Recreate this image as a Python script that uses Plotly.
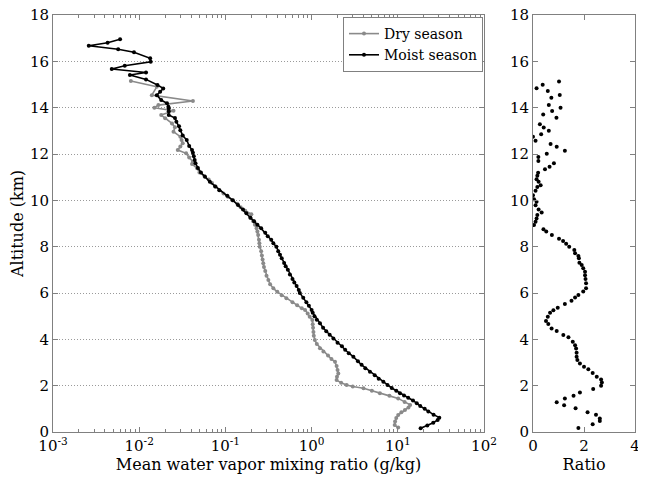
import plotly.graph_objects as go

# ---------------- data ----------------
moist_alt = [0.16, 0.28, 0.40, 0.52, 0.62, 0.75, 0.88, 1.00, 1.12, 1.24, 1.36, 1.48, 1.58, 1.67,
             1.78, 1.90, 2.03, 2.17, 2.30, 2.45, 2.60, 2.75, 2.90, 3.05, 3.25, 3.40, 3.55, 3.70,
             3.85, 4.04, 4.20, 4.35, 4.50, 4.69, 4.85, 5.00, 5.15, 5.27, 5.45, 5.60, 5.80, 6.00,
             6.13, 6.30, 6.45, 6.60, 6.80, 7.00, 7.15, 7.30, 7.50, 7.65, 7.80, 8.00, 8.15, 8.30,
             8.45, 8.60, 8.79, 8.95, 9.10, 9.25, 9.44, 9.60, 9.80, 10.00, 10.20, 10.44, 10.60,
             10.80, 11.02, 11.20, 11.40, 11.60, 11.74, 11.90, 12.05, 12.17, 12.35, 12.60, 12.80,
             13.03, 13.20, 13.39, 13.55, 13.68, 13.85, 13.97, 14.04, 14.19, 14.33, 14.54, 14.69,
             14.83, 14.98, 15.22, 15.41, 15.52, 15.67, 15.81, 15.98, 16.13, 16.39, 16.52, 16.67,
             16.80, 16.95]
moist_val = [18.4, 22.0, 25.8, 29.0, 30.3, 26.0, 22.6, 20.5, 18.2, 16.6, 15.0, 13.2, 11.8, 10.6,
             9.6, 8.5, 7.6, 6.8, 6.0, 5.4, 4.75, 4.2, 3.8, 3.45, 3.05, 2.7, 2.45, 2.25,
             2.0, 1.79, 1.62, 1.48, 1.36, 1.25, 1.15, 1.08, 1.03, 1.0, 0.93, 0.87, 0.80, 0.73,
             0.71, 0.67, 0.63, 0.60, 0.56, 0.53, 0.50, 0.48, 0.45, 0.43, 0.41, 0.39, 0.36, 0.34,
             0.31, 0.29, 0.26, 0.235, 0.215, 0.195, 0.175, 0.16, 0.14, 0.122, 0.105, 0.085, 0.076,
             0.066, 0.058, 0.052, 0.048, 0.045, 0.044, 0.043, 0.042, 0.041, 0.038, 0.0356, 0.032,
             0.030, 0.029, 0.027, 0.026, 0.022, 0.022, 0.022, 0.0218, 0.021, 0.018, 0.016, 0.0175,
             0.019, 0.0163, 0.012, 0.0078, 0.012, 0.0048, 0.0068, 0.0136, 0.0134, 0.0087, 0.0057,
             0.0026, 0.0043, 0.006]

dry_alt = [0.19, 0.30, 0.45, 0.60, 0.73, 0.85, 0.95, 1.06, 1.17, 1.30, 1.45, 1.56, 1.67, 1.78,
           1.89, 1.96, 2.03, 2.13, 2.24, 2.38, 2.53, 2.68, 2.85, 3.03, 3.15, 3.30, 3.47, 3.62,
           3.80, 3.97, 4.15, 4.32, 4.50, 4.65, 4.83, 4.98, 5.12, 5.27, 5.34, 5.47, 5.60, 5.77,
           5.90, 6.05, 6.20, 6.38, 6.56, 6.75, 6.95, 7.12, 7.28, 7.45, 7.62, 7.80, 8.00, 8.15,
           8.30, 8.50, 8.65, 8.79, 8.95, 9.10, 9.25, 9.40, 9.55, 9.70, 9.85, 10.00, 10.15, 10.30,
           10.45, 10.60, 10.75, 10.90, 11.05, 11.20, 11.38, 11.57, 11.67, 11.85, 12.03, 12.17,
           12.32, 12.46, 12.60, 12.75, 12.96, 13.15, 13.32, 13.54, 13.68, 13.87, 14.00, 14.11,
           14.29, 14.54, 14.90, 15.15]
dry_val = [10.1, 9.2, 9.3, 9.6, 10.1, 11.0, 12.1, 13.3, 13.9, 12.0, 10.1, 8.0, 6.2, 5.0,
           4.0, 3.0, 2.55, 2.2, 1.95, 1.97, 2.04, 2.0, 1.95, 1.87, 1.7, 1.55, 1.37, 1.25,
           1.15, 1.09, 1.06, 1.05, 1.04, 1.03, 1.02, 0.95, 0.90, 0.84, 0.77, 0.68, 0.60, 0.51,
           0.45, 0.40, 0.36, 0.33, 0.315, 0.30, 0.29, 0.28, 0.275, 0.27, 0.265, 0.26, 0.25, 0.248,
           0.245, 0.24, 0.235, 0.23, 0.22, 0.21, 0.195, 0.20, 0.17, 0.15, 0.137, 0.12, 0.107, 0.095,
           0.085, 0.077, 0.070, 0.064, 0.057, 0.050, 0.047, 0.041, 0.042, 0.038, 0.035, 0.028,
           0.030, 0.032, 0.031, 0.030, 0.025, 0.026, 0.024, 0.020, 0.018, 0.025, 0.015, 0.0167,
           0.042, 0.014, 0.016, 0.008]

ratio_alt = [0.17, 0.33, 0.47, 0.58, 0.74, 0.85, 1.02, 1.15, 1.28, 1.45, 1.57, 1.71, 1.86, 2.00,
             2.14, 2.27, 2.39, 2.55, 2.71, 2.82, 2.96, 3.11, 3.25, 3.42, 3.60, 3.75, 3.90, 4.09,
             4.19, 4.36, 4.47, 4.66, 4.79, 4.98, 5.15, 5.26, 5.36, 5.52, 5.67, 5.81, 5.91, 6.06,
             6.20, 6.42, 6.60, 6.77, 6.92, 7.07, 7.21, 7.31, 7.50, 7.60, 7.72, 7.86, 8.00, 8.13,
             8.25, 8.34, 8.50, 8.66, 8.75, 8.93, 9.08, 9.22, 9.37, 9.48, 9.60, 9.79, 9.94, 10.05,
             10.22, 10.41, 10.58, 10.65, 10.80, 10.91, 11.06, 11.19, 11.34, 11.45, 11.60, 11.70,
             11.87, 12.01, 12.14, 12.31, 12.43, 12.57, 12.74, 12.85, 13.00, 13.14, 13.28, 13.57,
             13.71, 13.86, 14.00, 14.12, 14.43, 14.55, 14.72, 14.84, 14.99, 15.13]
ratio_val = [1.78, 2.34, 2.62, 2.62, 2.47, 2.14, 1.67, 1.22, 0.93, 1.25, 1.59, 1.84, 2.36, 2.67,
             2.70, 2.67, 2.50, 2.34, 2.17, 2.00, 1.84, 1.74, 1.71, 1.71, 1.69, 1.65, 1.56, 1.39,
             1.19, 0.93, 0.73, 0.60, 0.51, 0.58, 0.67, 0.80, 0.97, 1.25, 1.51, 1.65, 1.78, 1.97,
             2.08, 2.08, 2.06, 2.04, 2.04, 1.97, 1.91, 1.82, 1.80, 1.78, 1.65, 1.62, 1.42, 1.30,
             1.18, 1.02, 0.74, 0.52, 0.41, 0.04, 0.10, 0.14, 0.17, 0.34, 0.22, 0.10, 0.14, 0.04,
             0.0, 0.10, 0.17, 0.30, 0.22, 0.14, 0.17, 0.20, 0.47, 0.65, 0.82, 0.21,
             0.21, 0.54, 1.25, 0.93, 0.69, 0.10, 0.0, 0.32, 0.62, 0.42, 0.27, 0.92,
             0.40, 0.75, 1.08, 0.62, 0.72, 1.05, 0.58, 0.14, 0.38, 1.02]

x_tickvals = [1e-3, 1e-2, 1e-1, 1e0, 1e1, 1e2]
x_ticktext = ["10<sup>-3</sup>", "10<sup>-2</sup>", "10<sup>-1</sup>",
              "10<sup>0</sup>", "10<sup>1</sup>", "10<sup>2</sup>"]
y_tickvals = [0, 2, 4, 6, 8, 10, 12, 14, 16, 18]
ratio_tickvals = [0, 2, 4]

minor_vals = [m * 10 ** e for e in range(-3, 2) for m in range(2, 10)]

# ---------------- figure ----------------
FONT = "DejaVu Serif"
AX = "#808080"
DRY = "#8a8a8a"

# page body has an 8px margin: size the figure to fit the window
OFF = 8
W, H = 646 - OFF, 477 - OFF


def px_x(px):
    return (px - OFF) / W


def px_y(py):
    return (H - (py - OFF)) / H


fig = go.Figure()
fig.add_trace(go.Scatter(x=dry_val, y=dry_alt, mode="lines+markers", name="Dry season",
                         line=dict(color=DRY, width=1.6), marker=dict(color=DRY, size=4),
                         xaxis="x", yaxis="y"))
fig.add_trace(go.Scatter(x=moist_val, y=moist_alt, mode="lines+markers", name="Moist season",
                         line=dict(color="black", width=1.6), marker=dict(color="black", size=4),
                         xaxis="x", yaxis="y"))
fig.add_trace(go.Scatter(x=ratio_val, y=ratio_alt, mode="markers", showlegend=False,
                         marker=dict(color="black", size=4), xaxis="x2", yaxis="y2"))

axis_common = dict(showline=True, linecolor=AX, linewidth=1, mirror="ticks",
                   ticks="inside", tickcolor=AX, ticklen=5, zeroline=False,
                   automargin=False, ticklabeloverflow="allow",
                   tickfont=dict(family=FONT, size=15, color="black"))

yd = [px_y(432), px_y(15)]

fig.update_layout(
    width=W, height=H,
    margin=dict(l=0, r=0, t=0, b=0),
    paper_bgcolor="white", plot_bgcolor="white",
    font=dict(family=FONT, size=15, color="black"),
    xaxis=dict(type="log", range=[-3, 2], domain=[px_x(53), px_x(484)],
               tickvals=x_tickvals, ticktext=x_ticktext, showgrid=False,
               minor=dict(tickvals=minor_vals, ticks="inside", ticklen=3, tickcolor=AX,
                          showgrid=False),
               title=dict(text="Mean water vapor mixing ratio (g/kg)",
                          font=dict(family=FONT, size=16), standoff=2),
               anchor="y", **axis_common),
    yaxis=dict(range=[0, 18], domain=yd, tickvals=y_tickvals, showgrid=True,
               gridcolor="#9a9a9a", griddash="1px,2px", gridwidth=1,
               title=dict(text="Altitude (km)", font=dict(family=FONT, size=16), standoff=6),
               anchor="x", **axis_common),
    xaxis2=dict(range=[0, 4], domain=[px_x(533), px_x(635)], tickvals=ratio_tickvals,
                showgrid=False,
                title=dict(text="Ratio", font=dict(family=FONT, size=16), standoff=2),
                anchor="y2", **axis_common),
    yaxis2=dict(range=[0, 18], domain=yd, tickvals=y_tickvals, showgrid=False,
                anchor="x2", **axis_common),
    legend=dict(x=px_x(483), y=px_y(17), xanchor="right", yanchor="top",
                bordercolor=AX, borderwidth=1, bgcolor="white",
                font=dict(family=FONT, size=14), tracegroupgap=0, itemwidth=30),
    showlegend=True,
)

fig.write_html("out.html")
